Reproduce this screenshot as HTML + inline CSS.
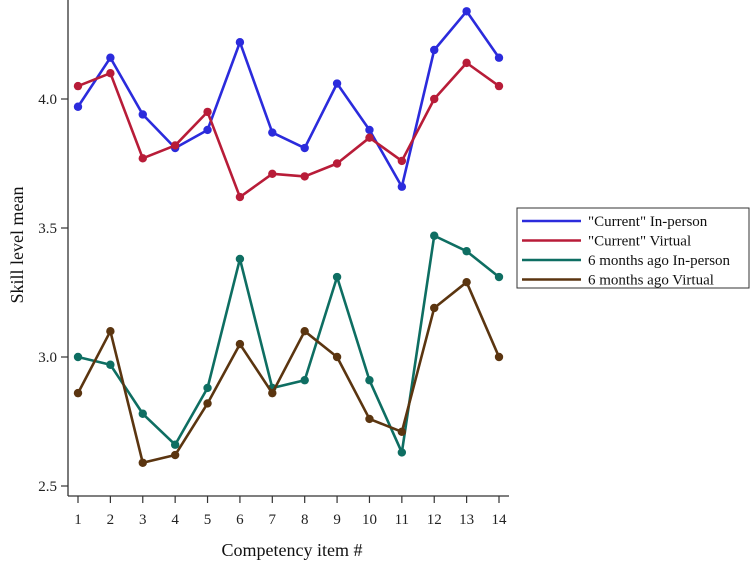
<!DOCTYPE html>
<html><head><meta charset="utf-8"><style>
html,body{margin:0;padding:0;background:#fff;}
svg{display:block;font-family:"Liberation Serif",serif;}
</style></head><body>
<svg id="chart" width="750" height="562" viewBox="0 0 750 562">
<g id="axes"></g><g id="series"></g>
<text x="292" y="556" font-size="18" text-anchor="middle" fill="#111">Competency item #</text>
<text transform="translate(23,245) rotate(-90)" font-size="18" text-anchor="middle" fill="#111">Skill level mean</text>
<g>
<rect x="517" y="208" width="232" height="80" fill="#fff" stroke="#333" stroke-width="1"/>
<g id="legend"></g>
</g>
</svg>
<script>
const categories=[1,2,3,4,5,6,7,8,9,10,11,12,13,14];
const curInPerson=[3.97,4.16,3.94,3.81,3.88,4.22,3.87,3.81,4.06,3.88,3.66,4.19,4.34,4.16];
const curVirtual=[4.05,4.10,3.77,3.82,3.95,3.62,3.71,3.70,3.75,3.85,3.76,4.00,4.14,4.05];
const prevInPerson=[3.00,2.97,2.78,2.66,2.88,3.38,2.88,2.91,3.31,2.91,2.63,3.47,3.41,3.31];
const prevVirtual=[2.86,3.10,2.59,2.62,2.82,3.05,2.86,3.10,3.00,2.76,2.71,3.19,3.29,3.00];
const yTicks=[2.5,3.0,3.5,4.0];
const yTickLabels=["2.5","3.0","3.5","4.0"];
const seriesNames=['"Current" In-person','"Current" Virtual','6 months ago In-person','6 months ago Virtual'];
const seriesColors=["#2b2bdc","#b81c38","#0e6e62","#5b3510"];
const seriesData=[curInPerson,curVirtual,prevInPerson,prevVirtual];
const seriesKeys=["current-in-person","current-virtual","six-months-in-person","six-months-virtual"];

const NS="http://www.w3.org/2000/svg";
const xs=c=>78+(c-1)*(499-78)/13;
const ys=v=>486-(v-2.5)*258;
function mk(tag,attrs,parent){const e=document.createElementNS(NS,tag);for(const k in attrs)e.setAttribute(k,attrs[k]);parent.appendChild(e);return e;}
const axes=document.getElementById('axes');
let e=mk('line',{x1:68,y1:0,x2:68,y2:496,stroke:'#333','stroke-width':1.3},axes);


e=mk('line',{x1:68,y1:496,x2:509,y2:496,stroke:'#333','stroke-width':1.3},axes);


yTicks.forEach((t,i)=>{
 mk('line',{x1:61,y1:ys(t),x2:68,y2:ys(t),stroke:'#333','stroke-width':1.2},axes);
 const tx=mk('text',{x:57,y:ys(t)+5,'font-size':15,'text-anchor':'end',fill:'#222'},axes);
 tx.textContent=yTickLabels[i];
 
 
});
categories.forEach(c=>{
 mk('line',{x1:xs(c),y1:496,x2:xs(c),y2:503,stroke:'#333','stroke-width':1.2},axes);
 const tx=mk('text',{x:xs(c),y:524,'font-size':15,'text-anchor':'middle',fill:'#222'},axes);
 tx.textContent=String(c);
 
 
});
const sg=document.getElementById('series');
seriesData.forEach((d,si)=>{
 const g=mk('g',{},sg);
 
 
 const pts=d.map((v,i)=>xs(categories[i])+','+ys(v)).join(' ');
 const pl=mk('polyline',{points:pts,fill:'none',stroke:seriesColors[si],'stroke-width':2.6,'stroke-linejoin':'round'},g);
 
 
 d.forEach((v,i)=>{
  const c=mk('circle',{cx:xs(categories[i]),cy:ys(v),r:4.2,fill:seriesColors[si]},g);
  
  
 });
});
const lg=document.getElementById('legend');
seriesNames.forEach((n,i)=>{
 const y=221+i*19.5;
 const g=mk('g',{},lg);
 
 
 mk('line',{x1:522,y1:y,x2:581,y2:y,stroke:seriesColors[i],'stroke-width':2.4},g);
 const t=mk('text',{x:588,y:y+5,'font-size':15,fill:'#111'},g);
 t.textContent=n;
});
</script>
</body></html>
